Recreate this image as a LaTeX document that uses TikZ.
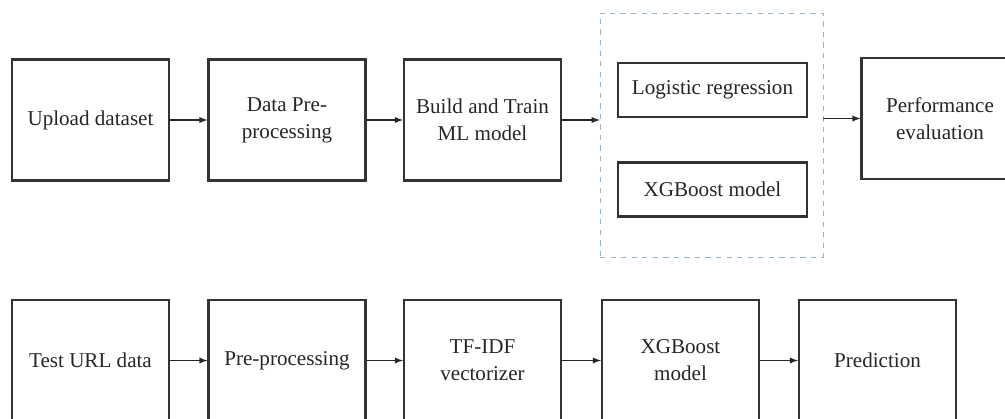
\documentclass[tikz,border=0pt]{standalone}
\usepackage{fontspec}
\setmainfont{Liberation Serif}
\newfontfamily\boxfont{Liberation Serif}
\definecolor{groupblue}{RGB}{150,178,205}
\begin{document}
\begin{tikzpicture}[
      main/.style = {draw=black!80, line width=1.2pt, minimum width=3.14cm, minimum height=2.42cm,
                     align=center, text=black!85, font=\boxfont\fontsize{12}{15.3}\selectfont},
      inner/.style = {draw=black!80, line width=1.2pt, minimum width=3.78cm, minimum height=1.08cm,
                      text=black!85, font=\boxfont\fontsize{12}{15.3}\selectfont},
      group/.style = {draw=groupblue, dashed, thin, minimum width=4.46cm, minimum height=4.88cm},
      arrow/.style = {-latex, black!85, line width=0.6pt}]
    \clip (0,0) rectangle (20.1,8.36);
    \fill[white] (0,0) rectangle (20.1,8.36);

    % training row
    \node[main] (upload) at (1.81, 5.96) {Upload dataset};
    \node[main] (prep) at (5.74, 5.96) {Data Pre-\\processing};
    \node[main] (train) at (9.65, 5.96) {Build and Train\\ML model};
    \node[group] (models) at (14.23, 5.66) {};
    \node[inner] (logreg) at (14.25, 6.56) {Logistic regression};
    \node[inner] (xgb) at (14.25, 4.57) {XGBoost model};
    \node[main] (perf) at (18.80, 5.99) {Performance\\evaluation};

    % testing row
    \node[main] (test) at (1.81, 1.15) {Test URL data};
    \node[main] (preproc) at (5.74, 1.15) {Pre-processing};
    \node[main] (tfidf) at (9.65, 1.15) {TF-IDF\\vectorizer};
    \node[main] (xgbtest) at (13.61, 1.15) {XGBoost\\model};
    \node[main] (pred) at (17.55, 1.15) {Prediction};

    % edges
    \draw[arrow] (upload) -- (prep);
    \draw[arrow] (prep) -- (train);
    \draw[arrow] (train.east) -- (train.east -| models.west);
    \draw[arrow] (models.east |- perf) -- (perf);

    \draw[arrow] (test) -- (preproc);
    \draw[arrow] (preproc) -- (tfidf);
    \draw[arrow] (tfidf) -- (xgbtest);
    \draw[arrow] (xgbtest) -- (pred);
  \end{tikzpicture}
\end{document}
